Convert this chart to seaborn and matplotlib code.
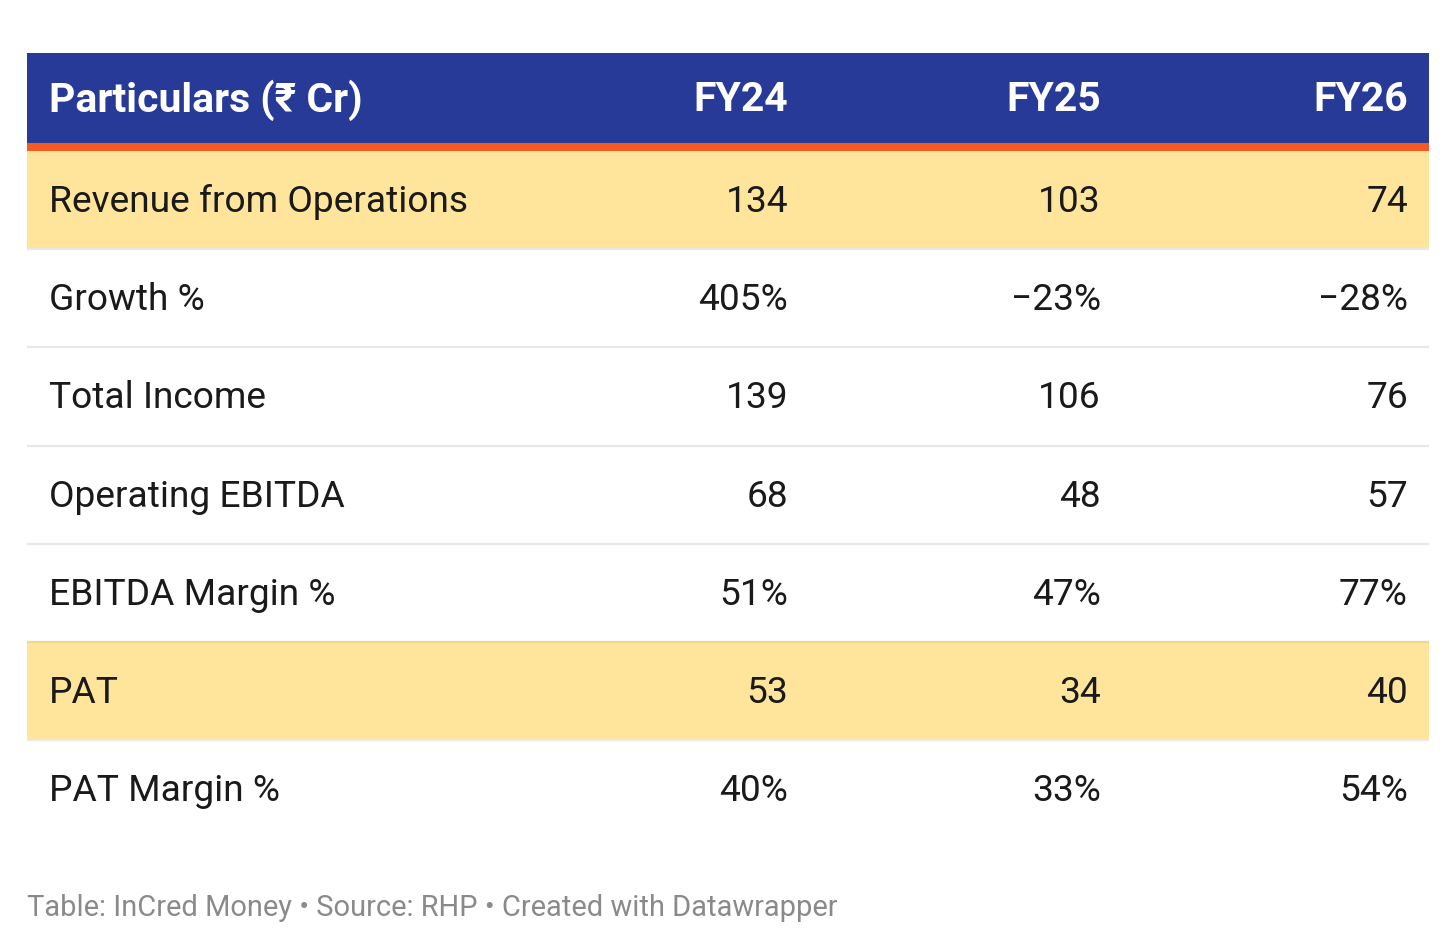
import numpy as np
import seaborn as sns
import matplotlib.pyplot as plt


sns.set_theme(style='white')
plt.rcParams['font.family'] = ['Roboto', 'DejaVu Sans']

columns = ['Particulars (₹ Cr)', 'FY24', 'FY25', 'FY26']
particulars = ['Revenue from Operations', 'Growth %', 'Total Income', 'Operating EBITDA',
               'EBITDA Margin %', 'PAT', 'PAT Margin %']
fy24 = ['134', '405%', '139', '68', '51%', '53', '40%']
fy25 = ['103', '\u221223%', '106', '48', '47%', '34', '33%']
fy26 = ['74', '\u221228%', '76', '57', '77%', '40', '54%']
highlighted = ['Revenue from Operations', 'PAT']
footer = 'Table: InCred Money \u2022 Source: RHP \u2022 Created with Datawrapper'

navy = '#283a97'
orange = '#f45a22'
yellow = '#fee59b'
grid = '#e8e8e8'

W, H = 1456, 951
fig = plt.figure(figsize=(W / 100, H / 100), dpi=100)
fig.patch.set_facecolor('white')
ax = fig.add_axes([27 / W, (H - 838) / H, (1429 - 27) / W, (838 - 53) / H])
ax.set_xlim(0, 1)
ax.set_ylim(len(particulars) - 0.5, -1.5)
ax.axis('off')

rows = np.arange(len(particulars))
row_colors = [yellow if p in highlighted else 'white' for p in particulars]

# header band and orange underline
ax.barh(-1, 1, height=1, left=0, color=navy, linewidth=0)
ax.axhspan(-0.58, -0.5, color=orange, linewidth=0)
# row backgrounds
ax.barh(rows, 1, height=1, left=0, color=row_colors, linewidth=0)
for r in rows[:-1]:
    ax.axhline(r + 0.5, color=grid, linewidth=1.6)
ax.axhline(particulars.index('PAT') - 0.5, color='#f2d98a', linewidth=1.6)

xpos = [0.0157, 0.5428, 0.766, 0.985]
aligns = ['left', 'right', 'right', 'right']
for x, a, c in zip(xpos, aligns, columns):
    ax.text(x, -1.02, c, ha=a, va='center', color='white', fontsize=29.4, fontweight='bold')

for r, vals in zip(rows, zip(particulars, fy24, fy25, fy26)):
    for x, a, v in zip(xpos, aligns, vals):
        ax.text(x, r + 0.02, v, ha=a, va='center', color='#1a1a1a', fontsize=26.7)

fig.text(27 / W, 1 - 908 / H, footer, ha='left', va='center', color='#8a8a8a', fontsize=20.9)

fig.savefig('out.png', dpi=100, facecolor='white')
